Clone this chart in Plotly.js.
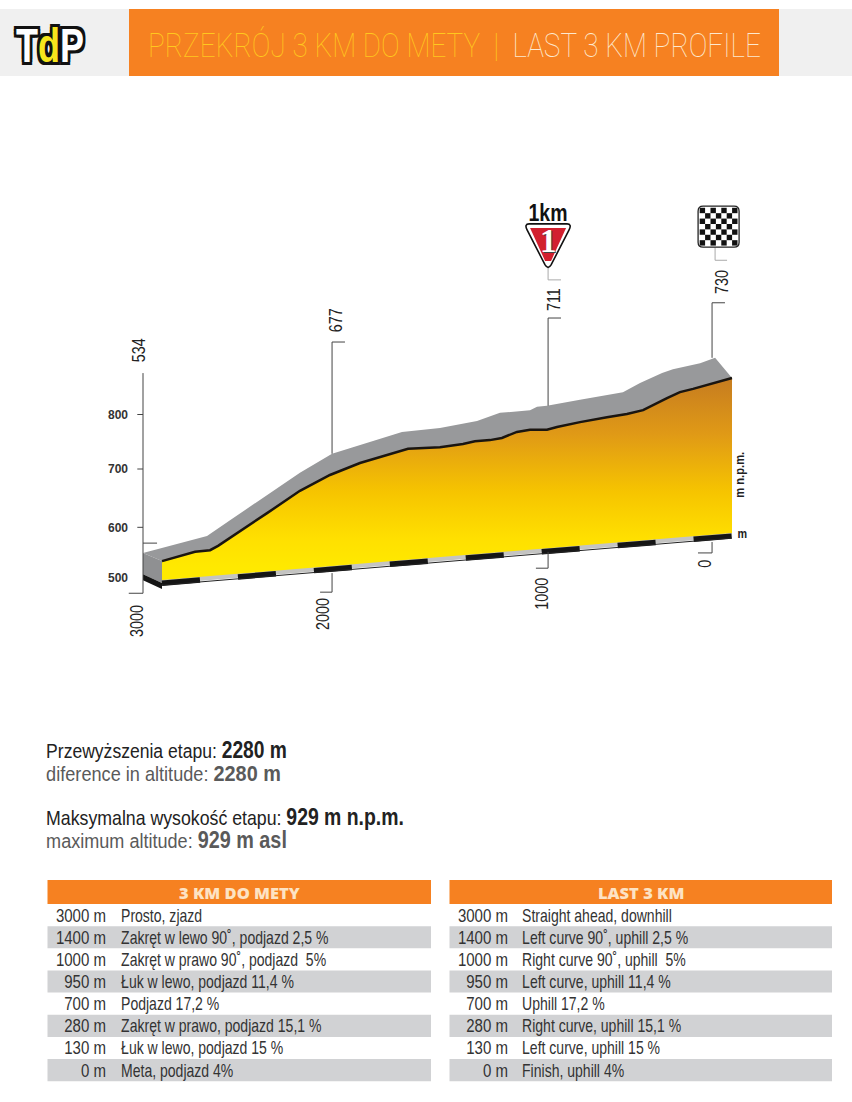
<!DOCTYPE html>
<html><head><meta charset="utf-8">
<script src="https://cdn.plot.ly/plotly-3.0.1.min.js"></script>
<style>html,body{margin:0;padding:0;background:#fff}#c{width:852px;height:1102px}</style></head>
<body><div id="c"></div>
<script>
// ---- data (distance to finish in m, altitude as read on the left axis)
const frontDist=[3000,2826,2747,2705,2447,2274,2116,1958,1705,1537,1416,1353,1274,1211,1132,1063,974,921,800,658,553,468,342,274,205,0];
const frontAlt=[531,548,551,559,619,660,689,711,737,740,746,751,753,757,768,772,772,777,786,795,801,808,830,841,847,867];
const backDist=[3100,2816,2763,2642,2274,2105,1958,1737,1537,1342,1221,1063,1026,974,800,574,484,368,311,168,89,0];
const backAlt=[546,572,577,606,693,728,744,768,775,788,803,808,814,816,827,841,858,876,883,894,904,867];
const baseDist=[3000,0];
const baseAlt=[487,573.4];
const baseTopAlt=[492.7,579];
const sideDist=[3100,3000];
const sideTopAlt=[507,491];
const sideBottomAlt=[496,480];
const yTickVals=[500,593,700,800];
const yTickText=['500','600','700','800'];
const pointLabels=['534','677','711','730'];
const pointDist=[3100,2105,968,105];
const pointTopAlt=[876,933,977,1005];
const pointBottomAlt=[472,474,518,546];
const labelDist=[3121,2084,937,53];
const labelAlt=[918,973,1012,1043];
const kmLabels=['3000','2000','1000','0'];
const kmLabelDist=[3132,2153,1000,142];
const kmLabelAlt=[421,434,471,526];
const distRows=['3000 m','1400 m','1000 m','950 m','700 m','280 m','130 m','0 m'];
const plRows=['Prosto, zjazd','Zakręt w lewo 90˚, podjazd 2,5 %','Zakręt w prawo 90˚, podjazd  5%','Łuk w lewo, podjazd 11,4 %','Podjazd 17,2 %','Zakręt w prawo, podjazd 15,1 %','Łuk w lewo, podjazd 15 %','Meta, podjazd 4%'];
const enRows=['Straight ahead, downhill','Left curve 90˚, uphill 2,5 %','Right curve 90˚, uphill  5%','Left curve, uphill 11,4 %','Uphill 17,2 %','Right curve, uphill 15,1 %','Left curve, uphill 15 %','Finish, uphill 4%'];

// ---- page geometry
const W=852,H=1102;
const SANS='"Liberation Sans",sans-serif';
const rev=a=>a.slice().reverse();
const shapes=[],ann=[],squeeze=[];
const px=x=>x/W, py=y=>1-y/H;
function rect(x0,y0,x1,y1,c){shapes.push({type:'rect',xref:'paper',yref:'paper',x0:px(x0),x1:px(x1),y0:py(y0),y1:py(y1),fillcolor:c,line:{width:0},layer:'below'});}
// sq: {f:factor} or {w:target width} narrows the glyphs, the fonts here have no condensed cut
function text(x,y,t,o={},sq=null){ann.push(Object.assign({xref:'paper',yref:'paper',x:px(x),y:py(y),text:t,showarrow:false,xanchor:'left',yanchor:'middle',borderpad:0,font:{family:SANS,size:16,color:'#222'}},o));squeeze.push(sq);}

// header
rect(0,9,W,76,'#f0f0f0');
rect(129,9,779,76,'#f68121');
text(147,45,'PRZEKRÓJ 3 KM DO METY\u00A0\u00A0|\u00A0\u00A0<span style="color:#fde9cf">LAST 3 KM PROFILE</span>',{font:{family:'Roboto,sans-serif',size:33,weight:100,color:'#ffc81e'}},{w:613});
const out='-3px 0 #111,3px 0 #111,0 -3px #111,0 3px #111,-3px -3px #111,3px -3px #111,-3px 3px #111,3px 3px #111';
text(15,45,'T<span style="color:#f7e51c">d</span>P',{font:{family:SANS,size:48,weight:700,color:'#fff',shadow:out}},{w:68});

// info text
const info=(y,label,value,c,w)=>text(45,y,label+' <b style="font-size:23px">'+value+'</b>',{font:{family:SANS,size:21,color:c}},{w});
info(750,'Przewyższenia etapu:','2280 m','#222',241);
info(773,'diference in altitude:','2280 m','#5a5a5a',235);
info(817,'Maksymalna wysokość etapu:','929 m n.p.m.','#222',358);
info(840,'maximum altitude:','929 m asl','#5a5a5a',241);

// tables
function table(x0,x1,title,rows,numX,descX){
  rect(x0,880,x1,904,'#f68121');
  text((x0+x1)/2,892,title,{xanchor:'center',font:{family:'"Open Sans",sans-serif',size:16.5,weight:800,color:'#fde3c4'}});
  rows.forEach((r,i)=>{
    const top=904+i*22.15;
    if(i%2) rect(x0,top,x1,top+22.15,'#d1d2d4');
    text(numX,top+11.5,distRows[i],{xanchor:'right',font:{family:SANS,size:18,color:'#333'}},{f:0.835});
    text(descX,top+11.5,r,{font:{family:SANS,size:18,color:'#333'}},{f:0.78});
  });
}
table(47.5,431,'3 KM DO METY',plRows,107,119.5);
table(449.5,832,'LAST 3 KM',enRows,509,521);

// rotated labels on the chart, placed through the data axes
function dataText(d,a,t,o={},sq={f:0.8}){ann.push(Object.assign({xref:'x',yref:'y',x:d,y:a,text:t,showarrow:false,textangle:-90,xanchor:'center',yanchor:'middle',font:{family:SANS,size:18,color:'#222'}},o));squeeze.push(sq);}
pointLabels.forEach((t,i)=>dataText(labelDist[i],labelAlt[i],t));
kmLabels.forEach((t,i)=>dataText(kmLabelDist[i],kmLabelAlt[i],t));
dataText(-42,690,'m n.p.m.',{font:{family:SANS,size:12,weight:700,color:'#222'}},{w:46});
dataText(-53,580,'m',{textangle:0,font:{family:SANS,size:12,weight:700,color:'#222'}},{f:0.9});

// km marker and finish flag, anchored on their distance
const mk={xref:'x',yref:'y',xsizemode:'pixel',ysizemode:'pixel'};
shapes.push(Object.assign({},mk,{type:'path',xanchor:968,yanchor:1069,
  path:'M-19,44 L19,44 Q24,44 21,38 L3,3 Q0,-2 -3,3 L-21,38 Q-24,44 -19,44 Z',fillcolor:'#fff',line:{color:'#111',width:1.6}}));
shapes.push(Object.assign({},mk,{type:'path',xanchor:968,yanchor:1069,
  path:'M-18,40 L18,40 L3,7 L-3,7 Z',fillcolor:'#d2202f',line:{width:0}}));
dataText(968,1169,'1km',{textangle:0,font:{family:SANS,size:23,weight:700,color:'#111'}},{w:39});
dataText(968,1118,'1',{textangle:0,font:{family:'"Liberation Serif",serif',size:33,weight:700,color:'#fff',shadow:'1px 1px 0 #444'}},null);
shapes.push(Object.assign({},mk,{type:'path',xanchor:89,yanchor:1107,
  path:'M-12,41 L19,41 Q24,41 24,36 L24,5 Q24,0 19,0 L-12,0 Q-17,0 -17,5 L-17,36 Q-17,41 -12,41 Z',fillcolor:'#fff',line:{color:'#222',width:1.3}}));
for(let r=0;r<7;r++)for(let c=0;c<7;c++){ if((r+c)%2===0){const x=-15.4+c*5.4, y=1.6+r*5.4;
  shapes.push(Object.assign({},mk,{type:'rect',xanchor:89,yanchor:1107,x0:x,x1:x+5.4,y0:y,y1:y+5.4,fillcolor:'#111',line:{width:0}}));}}

// traces
const line=(x,y,color,width)=>({x,y,mode:'lines',line:{color,width,simplify:false},hoverinfo:'skip',showlegend:false});
const poly=(x,y,fillcolor)=>({x,y,mode:'lines',fill:'toself',fillcolor,line:{width:0},hoverinfo:'skip',showlegend:false});
const traces=[];
traces.push(poly(backDist.concat(rev(frontDist)),backAlt.concat(rev(frontAlt)),'#98999b'));
traces.push(poly([sideDist[0],sideDist[1],sideDist[1],sideDist[0]],[backAlt[0],frontAlt[0],sideTopAlt[1],sideTopAlt[0]],'#8f9092'));
traces.push(poly([sideDist[0],sideDist[1],sideDist[1],sideDist[0]],[sideTopAlt[0],sideTopAlt[1],sideBottomAlt[1],sideBottomAlt[0]],'#151515'));
traces.push({x:frontDist.concat(rev(baseDist)),y:frontAlt.concat(rev(baseTopAlt)),mode:'lines',fill:'toself',line:{width:0},hoverinfo:'skip',showlegend:false,
  fillgradient:{type:'vertical',start:867,stop:520,colorscale:[[0,'#c67c20'],[0.3,'#e09a16'],[0.6,'#f6c400'],[0.85,'#ffe000'],[1,'#ffe900']]}});
traces.push(line(baseDist,baseTopAlt,'#c4c4c2',4));
const strip=line(baseDist,baseAlt.map(a=>a+3.5),'#151515',5.5);
strip.line.dash='38.1px,38.1px';
traces.push(strip);
traces.push(line(baseDist,baseAlt,'#222',1));
traces.push(line(frontDist,frontAlt,'#1a1510',2.5));
// leaders
const lx=[],ly=[];
const serif=[[3026,564,3100],[2037,933,2105],[900,977,968],[37,1005,105]];
const lowSerif=[[3175,472],[2168,474],[1032,518],[179,546]];
const leaderEnd=[472,728,816,904];
const lowerTop=[472,509,548,566];
pointDist.forEach((d,i)=>{
  lx.push(d,d,null); ly.push(pointTopAlt[i],leaderEnd[i],null);
  lx.push(d,d,null); ly.push(lowerTop[i],pointBottomAlt[i],null);
  lx.push(serif[i][0],serif[i][2],null); ly.push(serif[i][1],serif[i][1],null);
  lx.push(lowSerif[i][0],d,null); ly.push(lowSerif[i][1],lowSerif[i][1],null);
});
traces.push(line(lx,ly,'#444',1));
traces.push(line([968,968,900,null,89,89,26],[1069,1047,1047,null,1107,1083,1083],'#aaa',1));
traces.push(line([3130,3100,null,3130,3100,null,3130,3100],[800,800,null,700,700,null,593,593],'#444',1));

Plotly.newPlot('c',traces,{
  width:W,height:H,margin:{l:0,r:0,t:0,b:0},paper_bgcolor:'#fff',plot_bgcolor:'rgba(0,0,0,0)',showlegend:false,
  xaxis:{range:[732/0.19,(732-W)/0.19],visible:false,fixedrange:true},
  yaxis:{range:[500-(H-578)/0.545,500+578/0.545],fixedrange:true,anchor:'free',position:143/W,showgrid:false,zeroline:false,showline:false,
    tickmode:'array',tickvals:yTickVals,ticktext:yTickText,ticks:'',ticklabelstandoff:15,tickfont:{family:SANS,size:12,weight:700,color:'#333'}},
  shapes,annotations:ann
},{staticPlot:true,displayModeBar:false}).then(()=>{
  document.querySelectorAll('.annotation').forEach(g=>{
    const i=+g.getAttribute('data-index'), sq=squeeze[i], t=g.querySelector('text');
    if(!sq||!t) return;
    const b=t.getBBox(), f=(sq.w||b.width*sq.f)/b.width, a=ann[i];
    const pivot=a.xanchor==='left'?b.x:a.xanchor==='right'?b.x+b.width:b.x+b.width/2;
    const prev=t.getAttribute('transform')||'';
    t.setAttribute('transform',`${prev} translate(${pivot},0) scale(${f},1) translate(${-pivot},0)`);
  });
});
</script></body></html>
